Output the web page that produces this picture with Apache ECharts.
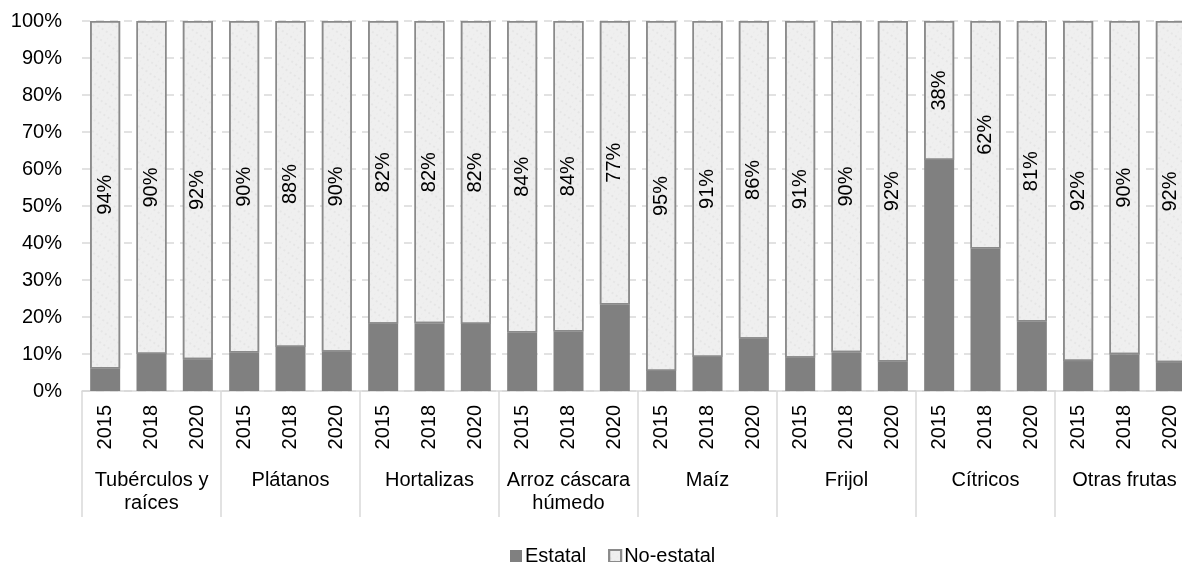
<!DOCTYPE html>
<html>
<head>
<meta charset="utf-8">
<script src="https://cdn.jsdelivr.net/npm/echarts@6/dist/echarts.min.js"></script>
<style>
  html, body { margin: 0; padding: 0; background: #fff; }
  #main { width: 1182px; height: 562px; }
</style>
</head>
<body>
<div id="main"></div>
<script>
// grupos de cultivos y años
const groups = ['Tubérculos y\nraíces', 'Plátanos', 'Hortalizas', 'Arroz cáscara\nhúmedo', 'Maíz', 'Frijol', 'Cítricos', 'Otras frutas']
const years = ['2015', '2018', '2020']
const yearLabels = groups.flatMap(() => years)

// participación estatal (%)
const estatal = [6.1, 10.0, 8.6, 10.4, 11.9, 10.6, 18.2, 18.3, 18.1, 15.8, 16.1, 23.4,
  5.4, 9.2, 14.1, 9.0, 10.5, 8.0, 62.4, 38.5, 18.8, 8.1, 9.9, 7.8]
// resto hasta 100%
const noEstatal = estatal.map(v => 100 - v)
// etiquetas tal como aparecen en el gráfico
const noEstatalLabels = ['94%', '90%', '92%', '90%', '88%', '90%', '82%', '82%', '82%', '84%', '84%', '77%',
  '95%', '91%', '86%', '91%', '90%', '92%', '38%', '62%', '81%', '92%', '90%', '92%']

const yTicks = { min: 0, max: 100, interval: 10 }

const font = "'Liberation Sans', Arial, sans-serif"
const chart = echarts.init(document.getElementById('main'))

chart.setOption({
  animation: false,
  textStyle: { fontFamily: font },
  grid: {
    left: 82,
    top: 21,
    width: 1112,
    height: 370,
    containLabel: false,
    outerBoundsMode: 'none'
  },
  legend: {
    left: 505,
    top: 541,
    itemWidth: 12,
    itemHeight: 12,
    itemGap: 22,
    icon: 'rect',
    textStyle: { fontSize: 20, color: '#000', fontFamily: font, padding: [0, 0, 0, -2] },
    data: ['Estatal', 'No-estatal']
  },
  xAxis: [
    {
      type: 'category',
      data: yearLabels,
      axisLine: { show: true, lineStyle: { color: '#d9d9d9', width: 1.5 } },
      axisTick: { show: false },
      axisLabel: {
        interval: 0,
        rotate: 90,
        margin: 14,
        fontSize: 20,
        color: '#000',
        fontFamily: font
      }
    },
    {
      type: 'category',
      data: groups,
      position: 'bottom',
      axisLine: { show: false },
      axisTick: {
        show: true,
        interval: 0,
        length: 126,
        lineStyle: { color: '#d9d9d9', width: 1.5 }
      },
      axisLabel: {
        interval: 0,
        margin: 78,
        fontSize: 20,
        lineHeight: 23,
        color: '#000',
        fontFamily: font
      },
      splitLine: { show: false }
    }
  ],
  yAxis: {
    type: 'value',
    min: yTicks.min,
    max: yTicks.max,
    interval: yTicks.interval,
    axisLine: { show: false },
    axisTick: { show: false },
    axisLabel: {
      formatter: '{value}%',
      margin: 20,
      fontSize: 20,
      color: '#000',
      fontFamily: font
    },
    splitLine: {
      lineStyle: { color: '#d9d9d9', type: [8, 6], width: 1.5 }
    }
  },
  series: [
    {
      name: 'Estatal',
      type: 'bar',
      stack: 'total',
      barWidth: 30,
      data: estatal,
      itemStyle: { color: '#808080' }
    },
    {
      name: 'No-estatal',
      type: 'bar',
      stack: 'total',
      barWidth: 30,
      data: noEstatal,
      itemStyle: {
        color: '#efefef',
        borderColor: '#8a8a8a',
        borderWidth: 1.5,
        decal: {
          symbol: 'circle',
          symbolSize: 0.8,
          color: 'rgba(180,180,180,0.35)',
          dashArrayX: [[2, 3], [1, 4]],
          dashArrayY: [2, 3],
          rotation: 0.6
        }
      },
      label: {
        show: true,
        position: 'inside',
        rotate: 90,
        fontSize: 20,
        color: '#000',
        fontFamily: font,
        formatter: p => noEstatalLabels[p.dataIndex]
      }
    }
  ]
})
</script>
</body>
</html>
